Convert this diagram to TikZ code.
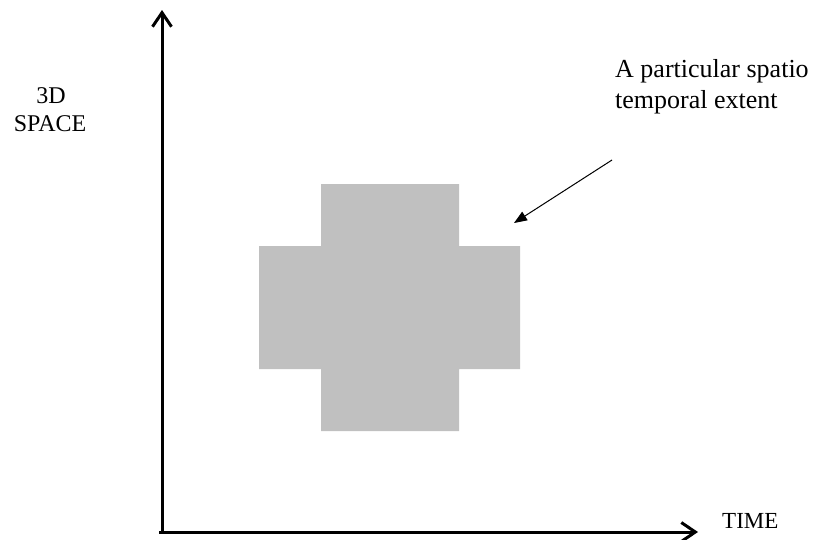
\documentclass[tikz,border=0pt]{standalone}
\usepackage{fontspec}
\setmainfont{Liberation Serif}
\usetikzlibrary{arrows.meta}
\definecolor{extentgray}{HTML}{C0C0C0}
\tikzset{
  axis/.style={line width=3pt, -{Straight Barb[length=14pt,width=19pt,line width=3pt]}},
  pointer/.style={line width=1pt, -{Triangle[length=13pt,width=10pt]}},
  lbl/.style={inner sep=0pt, font=\fontsize{23}{27}\selectfont},
  big/.style={inner sep=0pt, font=\fontsize{26}{30}\selectfont},
}
\begin{document}
\begin{tikzpicture}[x=1pt,y=-1pt]
\useasboundingbox (0,0) rectangle (813,539);
% extent (cross)
\fill[extentgray] (321,184) -- (459,184) -- (459,246) -- (520,246) -- (520,369) -- (459,369)
  -- (459,431) -- (321,431) -- (321,369) -- (259,369) -- (259,246) -- (321,246) -- cycle;
% axes
\coordinate (o) at (162,532);
\coordinate (ytop) at (162,10);
\coordinate (xend) at (698,532);
\coordinate (ostart) at (159,532);
\draw[axis] (o) -- (ytop);
\draw[axis] (ostart) -- (xend);
% labels
\node[lbl, font=\fontsize{24}{28}\selectfont, anchor=base] (l3d) at (51,103) {3D};
\node[lbl, font=\fontsize{24}{28}\selectfont, anchor=base] (lspace) at (50,131) {SPACE};
\node[lbl, anchor=base west] (ltime) at (722,528) {TIME};
\node[big, anchor=base west] (la1) at (615,77) {A particular spatio};
\node[big, anchor=base west] (la2) at (615,108) {temporal extent};
% pointer
\coordinate (pstart) at (612,160);
\coordinate (ptip) at (514,223);
\draw[pointer] (pstart) -- (ptip);
\end{tikzpicture}
\end{document}
